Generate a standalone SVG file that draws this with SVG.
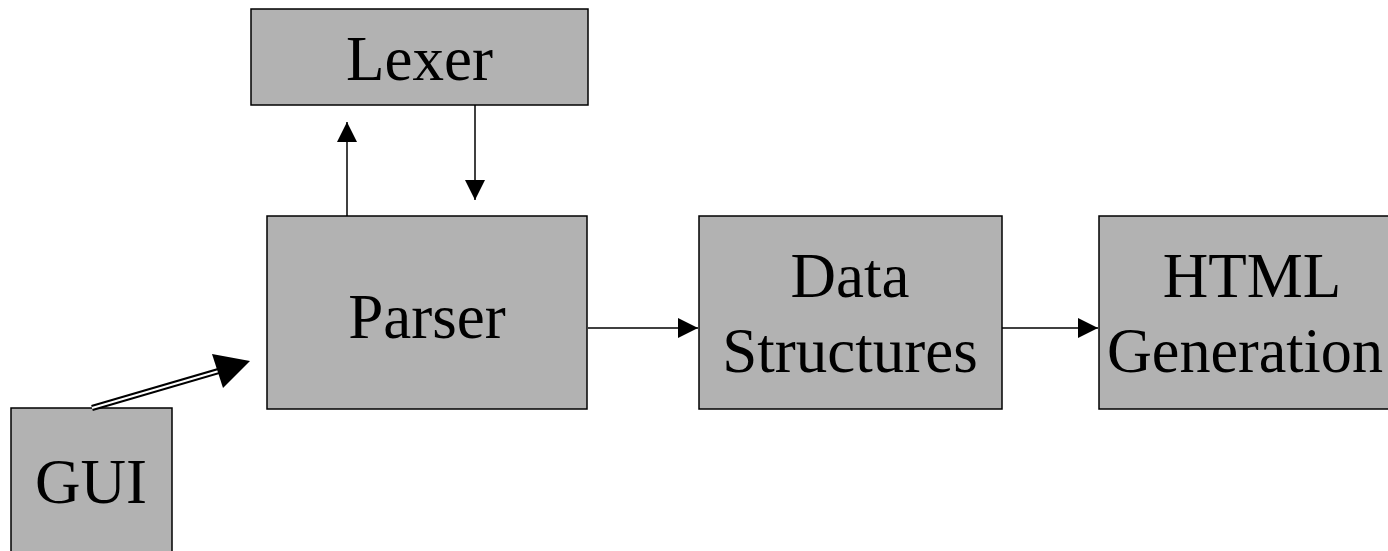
<svg xmlns="http://www.w3.org/2000/svg" width="1388" height="551" viewBox="0 0 1388 551">
<style>
.box{fill:#b2b2b2;stroke:#000;stroke-width:1.5}
.lbl{font-family:"Liberation Serif","Times New Roman",serif;font-size:63px;fill:#000;text-anchor:middle}
.ln{stroke:#000;stroke-width:1.5;fill:none}
</style>
<defs>
<marker id="ah" markerUnits="userSpaceOnUse" markerWidth="22" markerHeight="22" refX="20" refY="10" orient="auto">
<path d="M0,0 L20,10 L0,20 Z" fill="#000"/>
</marker>
</defs>
<rect width="1388" height="551" fill="#fff"/>
<g id="lexer"><rect class="box" x="251" y="9" width="337" height="96"/><text class="lbl" x="419.5" y="80">Lexer</text></g>
<g id="parser"><rect class="box" x="267" y="216" width="320" height="193"/><text class="lbl" x="427" y="338">Parser</text></g>
<g id="data"><rect class="box" x="699" y="216" width="303" height="193"/><text class="lbl" x="850" y="297">Data</text><text class="lbl" x="850" y="372">Structures</text></g>
<g id="html"><rect class="box" x="1099" y="216" width="310" height="193"/><text class="lbl" x="1252" y="297">HTML</text><text class="lbl" x="1245" y="372" textLength="276" lengthAdjust="spacingAndGlyphs">Generation</text></g>
<g id="gui"><rect class="box" x="11" y="408" width="161" height="160"/><text class="lbl" x="91" y="503">GUI</text></g>
<g id="connectors">
<line class="ln" x1="347" y1="216" x2="347" y2="122" marker-end="url(#ah)"/>
<line class="ln" x1="475" y1="105" x2="475" y2="200" marker-end="url(#ah)"/>
<line class="ln" x1="588" y1="328" x2="698" y2="328" marker-end="url(#ah)"/>
<line class="ln" x1="1002" y1="328" x2="1098" y2="328" marker-end="url(#ah)"/>
<line x1="92" y1="408" x2="222" y2="370" stroke="#000" stroke-width="6"/>
<line x1="92" y1="408" x2="224" y2="369.5" stroke="#fff" stroke-width="2"/>
<path d="M250,361 L212,354 L223,388 Z" fill="#000"/>
</g>
</svg>
